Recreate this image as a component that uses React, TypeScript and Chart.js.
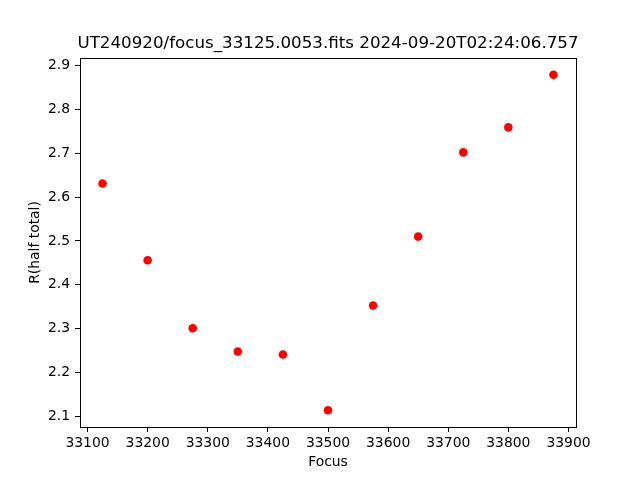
import React, { useEffect, useRef } from "react";
import { Chart, registerables } from "chart.js";

Chart.register(...registerables);

const titleText = "UT240920/focus_33125.0053.fits 2024-09-20T02:24:06.757";
const xLabel = "Focus";
const yLabel = "R(half total)";
const focusValues = [33125, 33200, 33275, 33350, 33425, 33500, 33575, 33650, 33725, 33800, 33875];
const radiusValues = [2.631, 2.456, 2.301, 2.248, 2.241, 2.114, 2.353, 2.510, 2.702, 2.759, 2.879];
const xTicks = [33100, 33200, 33300, 33400, 33500, 33600, 33700, 33800, 33900];
const yTicks = [2.1, 2.2, 2.3, 2.4, 2.5, 2.6, 2.7, 2.8, 2.9];

const FONT = "'DejaVu Sans', sans-serif";

export default function App() {
  const ref = useRef<HTMLCanvasElement>(null);
  useEffect(() => {
    if (!ref.current) return;
    const xMin = Math.min(...focusValues), xMax = Math.max(...focusValues);
    const yMin = Math.min(...radiusValues), yMax = Math.max(...radiusValues);
    const xm = (xMax - xMin) * 0.05, ym = (yMax - yMin) * 0.05;

    const framePlugin = {
      id: "frame",
      afterDraw(chart: any) {
        const { ctx, chartArea } = chart;
        ctx.save();
        ctx.strokeStyle = "#000";
        ctx.lineWidth = 1;
        ctx.strokeRect(
          Math.round(chartArea.left) + 0.5,
          Math.round(chartArea.top) + 0.5,
          Math.round(chartArea.right - chartArea.left),
          Math.round(chartArea.bottom - chartArea.top)
        );
        ctx.fillStyle = "#000";
        ctx.textAlign = "center";
        ctx.textBaseline = "middle";
        ctx.font = `16.7px ${FONT}`;
        ctx.fillText(titleText, (chartArea.left + chartArea.right) / 2, 44);
        ctx.font = `13.9px ${FONT}`;
        ctx.fillText(xLabel, (chartArea.left + chartArea.right) / 2, 462);
        ctx.translate(35, (chartArea.top + chartArea.bottom) / 2);
        ctx.rotate(-Math.PI / 2);
        ctx.fillText(yLabel, 0, 0);
        ctx.restore();
      },
    };

    const chart = new Chart(ref.current, {
      type: "scatter",
      data: {
        datasets: [
          {
            data: focusValues.map((x, i) => ({ x, y: radiusValues[i] })),
            backgroundColor: "#ff0000",
            borderColor: "#ff0000",
            borderWidth: 0,
            pointRadius: 4.3,
          },
        ],
      },
      options: {
        animation: false,
        responsive: false,
        layout: { padding: { left: 0, top: 58, right: 64, bottom: 0 } },
        plugins: { legend: { display: false }, title: { display: false }, tooltip: { enabled: false } },
        scales: {
          x: {
            type: "linear",
            min: xMin - xm,
            max: xMax + xm,
            afterFit(scale: any) { scale.height = 53; },
            afterBuildTicks(scale: any) { scale.ticks = xTicks.map((v) => ({ value: v })); },
            grid: { drawOnChartArea: false, drawTicks: true, tickLength: 5, color: "#000" },
            border: { display: true, color: "#000" },
            ticks: { color: "#000", font: { family: FONT, size: 13.9 }, padding: 3, maxRotation: 0, callback: (v: any) => String(v) },
          },
          y: {
            type: "linear",
            min: yMin - ym,
            max: yMax + ym,
            afterFit(scale: any) { scale.width = 80; },
            afterBuildTicks(scale: any) { scale.ticks = yTicks.map((v) => ({ value: v })); },
            grid: { drawOnChartArea: false, drawTicks: true, tickLength: 5, color: "#000" },
            border: { display: true, color: "#000" },
            ticks: { color: "#000", font: { family: FONT, size: 13.9 }, padding: 5, callback: (v: any) => Number(v).toFixed(1) },
          },
        },
      },
      plugins: [framePlugin],
    });
    return () => chart.destroy();
  }, []);
  return (
    <div style={{ position: "fixed", left: 0, top: 0, width: 640, height: 480, background: "#fff" }}>
      <canvas ref={ref} width={640} height={480} style={{ width: 640, height: 480 }} />
    </div>
  );
}
